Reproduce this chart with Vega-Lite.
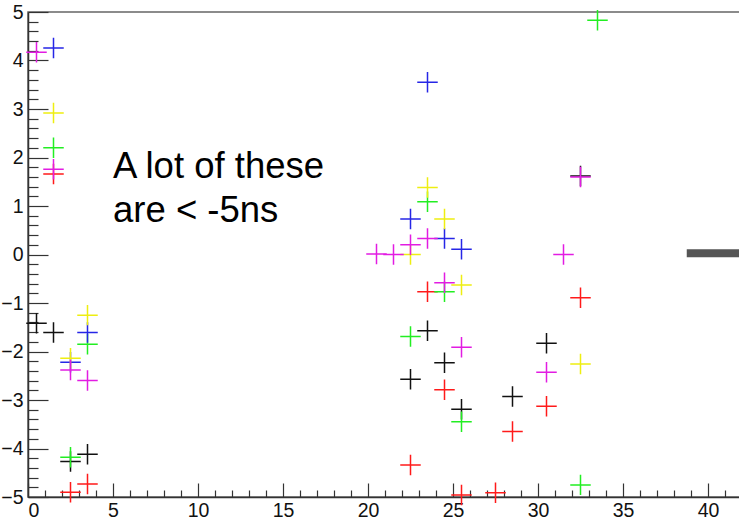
{
  "$schema": "https://vega.github.io/schema/vega-lite/v6.json",
  "width": 714,
  "height": 485,
  "autosize": "none",
  "padding": {"left": 28, "top": 12, "right": 0, "bottom": 23},
  "background": "white",
  "config": {
    "view": {"stroke": "#666", "strokeWidth": 1.5},
    "font": "Liberation Sans"
  },
  "datasets": {
    "pts": [
      {"x": 0.5, "y": -1.42, "c": "black"},
      {"x": 1.5, "y": -1.61, "c": "black"},
      {"x": 2.5, "y": -4.27, "c": "black"},
      {"x": 3.5, "y": -4.12, "c": "black"},
      {"x": 22.5, "y": -2.57, "c": "black"},
      {"x": 23.5, "y": -1.57, "c": "black"},
      {"x": 24.5, "y": -2.23, "c": "black"},
      {"x": 25.5, "y": -3.19, "c": "black"},
      {"x": 28.5, "y": -2.93, "c": "black"},
      {"x": 30.5, "y": -1.83, "c": "black"},
      {"x": 32.5, "y": 1.62, "c": "black"},
      {"x": 1.5, "y": 1.66, "c": "red"},
      {"x": 2.5, "y": -4.9, "c": "red"},
      {"x": 3.5, "y": -4.73, "c": "red"},
      {"x": 22.5, "y": -4.34, "c": "red"},
      {"x": 23.5, "y": -0.77, "c": "red"},
      {"x": 24.5, "y": -2.79, "c": "red"},
      {"x": 25.5, "y": -4.96, "c": "red"},
      {"x": 27.5, "y": -4.91, "c": "red"},
      {"x": 28.5, "y": -3.65, "c": "red"},
      {"x": 30.5, "y": -3.13, "c": "red"},
      {"x": 32.5, "y": -0.89, "c": "red"},
      {"x": 1.5, "y": 2.2, "c": "green"},
      {"x": 2.5, "y": -4.18, "c": "green"},
      {"x": 3.5, "y": -1.85, "c": "green"},
      {"x": 22.5, "y": -1.69, "c": "green"},
      {"x": 23.5, "y": 1.09, "c": "green"},
      {"x": 24.5, "y": -0.77, "c": "green"},
      {"x": 25.5, "y": -3.45, "c": "green"},
      {"x": 32.5, "y": -4.75, "c": "green"},
      {"x": 33.5, "y": 4.83, "c": "green"},
      {"x": 1.5, "y": 4.26, "c": "blue"},
      {"x": 2.5, "y": -2.22, "c": "blue"},
      {"x": 3.5, "y": -1.61, "c": "blue"},
      {"x": 22.5, "y": 0.73, "c": "blue"},
      {"x": 23.5, "y": 3.55, "c": "blue"},
      {"x": 24.5, "y": 0.33, "c": "blue"},
      {"x": 25.5, "y": 0.11, "c": "blue"},
      {"x": 1.5, "y": 2.92, "c": "yellow"},
      {"x": 2.5, "y": -2.14, "c": "yellow"},
      {"x": 3.5, "y": -1.25, "c": "yellow"},
      {"x": 22.5, "y": 0.0, "c": "yellow"},
      {"x": 23.5, "y": 1.38, "c": "yellow"},
      {"x": 24.5, "y": 0.73, "c": "yellow"},
      {"x": 25.5, "y": -0.63, "c": "yellow"},
      {"x": 32.5, "y": -2.26, "c": "yellow"},
      {"x": 0.5, "y": 4.17, "c": "magenta"},
      {"x": 1.5, "y": 1.76, "c": "magenta"},
      {"x": 2.5, "y": -2.38, "c": "magenta"},
      {"x": 3.5, "y": -2.6, "c": "magenta"},
      {"x": 20.5, "y": 0.01, "c": "magenta"},
      {"x": 21.5, "y": 0.0, "c": "magenta"},
      {"x": 22.5, "y": 0.2, "c": "magenta"},
      {"x": 23.5, "y": 0.33, "c": "magenta"},
      {"x": 24.5, "y": -0.58, "c": "magenta"},
      {"x": 25.5, "y": -1.91, "c": "magenta"},
      {"x": 30.5, "y": -2.43, "c": "magenta"},
      {"x": 31.5, "y": 0.0, "c": "magenta"},
      {"x": 32.5, "y": 1.6, "c": "magenta"}
    ]
  },
  "layer": [
    {
      "data": {"name": "pts"},
      "mark": {"type": "point", "opacity": 0},
      "encoding": {
        "x": {
          "field": "x", "type": "quantitative",
          "scale": {"domain": [0, 42], "nice": false, "zero": false},
          "axis": {
            "orient": "bottom", "title": null, "labels": false, "domain": false, "grid": false,
            "values": [1,2,3,4,6,7,8,9,11,12,13,14,16,17,18,19,21,22,23,24,26,27,28,29,31,32,33,34,36,37,38,39,41],
            "tickSize": -7, "tickColor": "#333", "tickWidth": 1.2
          }
        },
        "y": {
          "field": "y", "type": "quantitative",
          "scale": {"domain": [-5, 5], "nice": false, "zero": false},
          "axis": {
            "orient": "left", "title": null, "labels": false, "domain": false, "grid": false,
            "values": [-4.8,-4.6,-4.4,-4.2,-3.8,-3.6,-3.4,-3.2,-2.8,-2.6,-2.4,-2.2,-1.8,-1.6,-1.4,-1.2,-0.8,-0.6,-0.4,-0.2,0.2,0.4,0.6,0.8,1.2,1.4,1.6,1.8,2.2,2.4,2.6,2.8,3.2,3.4,3.6,3.8,4.2,4.4,4.6,4.8],
            "tickSize": -10, "tickColor": "#333", "tickWidth": 1.2
          }
        }
      }
    },
    {
      "data": {"name": "pts"},
      "mark": {
        "type": "point",
        "shape": "M-1,0L1,0M0,-1L0,1",
        "size": 420,
        "filled": false,
        "strokeWidth": 1.5,
        "opacity": 1
      },
      "encoding": {
        "x": {
          "field": "x", "type": "quantitative",
          "scale": {"domain": [0, 42], "nice": false, "zero": false},
          "axis": {
            "orient": "bottom", "title": null, "grid": false,
            "values": [0,5,10,15,20,25,30,35,40],
            "tickSize": -14, "tickColor": "#333", "tickWidth": 1.2,
            "domainColor": "#333", "domainWidth": 1.5,
            "labelFontSize": 19.5, "labelColor": "#111", "labelPadding": 18
          }
        },
        "y": {
          "field": "y", "type": "quantitative",
          "scale": {"domain": [-5, 5], "nice": false, "zero": false},
          "axis": {
            "orient": "left", "title": null, "grid": false,
            "values": [-5,-4,-3,-2,-1,0,1,2,3,4,5],
            "tickSize": -20, "tickColor": "#333", "tickWidth": 1.2,
            "domainColor": "#333", "domainWidth": 1.5,
            "labelFontSize": 19.5, "labelColor": "#111", "labelPadding": 25,
            "labelFlush": false
          }
        },
        "color": {
          "field": "c", "type": "nominal", "legend": null,
          "scale": {
            "domain": ["black", "red", "green", "blue", "yellow", "magenta"],
            "range": ["#111111", "#ff1a1a", "#22ee22", "#2626e6", "#eeee11", "#e21ce2"]
          }
        }
      }
    },
    {
      "data": {"values": [{}]},
      "mark": {
        "type": "text",
        "align": "left",
        "baseline": "alphabetic",
        "fontSize": 36.5,
        "font": "Liberation Sans",
        "color": "#000"
      },
      "encoding": {
        "x": {"datum": 5.0, "type": "quantitative", "axis": null},
        "y": {"datum": 1.58, "type": "quantitative", "axis": null},
        "text": {"value": "A lot of these"}
      }
    },
    {
      "data": {"values": [{}]},
      "mark": {
        "type": "text",
        "align": "left",
        "baseline": "alphabetic",
        "fontSize": 36.5,
        "font": "Liberation Sans",
        "color": "#000"
      },
      "encoding": {
        "x": {"datum": 5.0, "type": "quantitative", "axis": null},
        "y": {"datum": 0.67, "type": "quantitative", "axis": null},
        "text": {"value": "are < -5ns"}
      }
    },
    {
      "data": {"values": [{}]},
      "mark": {"type": "rule", "color": "#555", "strokeWidth": 8, "strokeCap": "butt"},
      "encoding": {
        "x": {"datum": 38.75, "type": "quantitative", "axis": null},
        "x2": {"datum": 42},
        "y": {"datum": 0.025, "type": "quantitative", "axis": null}
      }
    }
  ],
  "resolve": {"axis": {"x": "independent", "y": "independent"}}
}
